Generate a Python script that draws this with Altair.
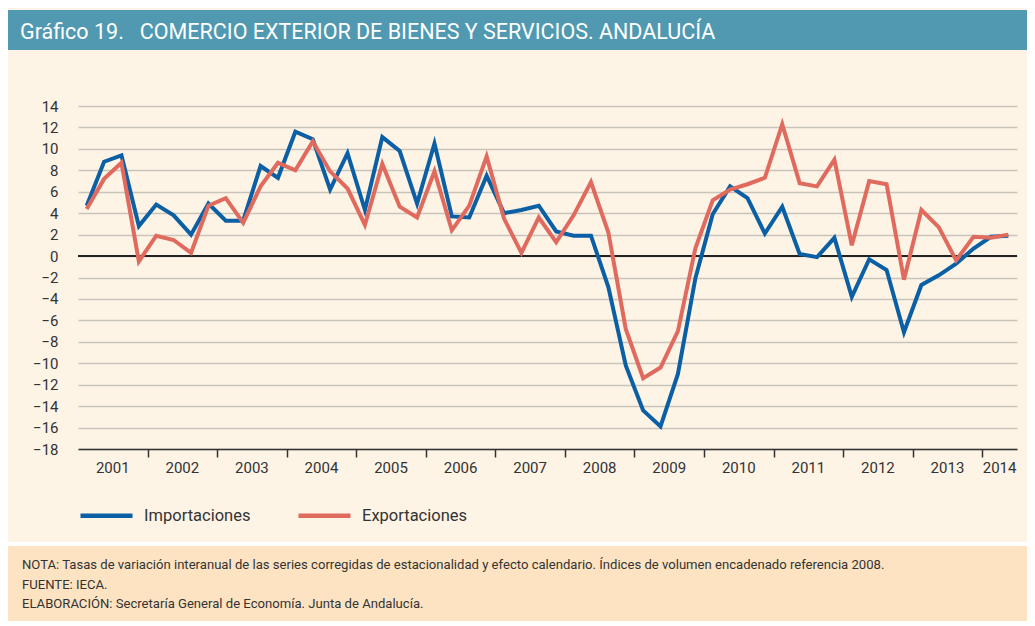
import altair as alt
import pandas as pd

# ---- data (quarterly, 2001Q1 .. 2014Q2) ----
importaciones = [4.7, 8.8, 9.4, 2.8, 4.8, 3.8, 2.0, 4.9, 3.3, 3.3,
                 8.4, 7.3, 11.6, 10.9, 6.2, 9.6, 4.3, 11.1, 9.8, 4.9,
                 10.5, 3.7, 3.6, 7.5, 4.0, 4.3, 4.7, 2.3, 1.9, 1.9,
                 -2.9, -10.2, -14.4, -15.9, -11.0, -2.1, 3.9, 6.5, 5.4, 2.1,
                 4.6, 0.2, -0.1, 1.7, -3.8, -0.3, -1.3, -7.1, -2.7, -1.8,
                 -0.7, 0.7, 1.8, 1.9]
exportaciones = [4.4, 7.2, 8.7, -0.5, 1.9, 1.5, 0.3, 4.7, 5.4, 3.1,
                 6.5, 8.7, 8.0, 10.7, 7.9, 6.3, 2.9, 8.6, 4.6, 3.6,
                 7.9, 2.4, 4.7, 9.3, 3.5, 0.3, 3.6, 1.3, 3.8, 6.9,
                 2.2, -6.8, -11.4, -10.4, -7.0, 0.7, 5.2, 6.2, 6.7, 7.3,
                 12.3, 6.8, 6.5, 9.0, 1.0, 7.0, 6.7, -2.2, 4.3, 2.7,
                 -0.4, 1.8, 1.7, 2.0]
series_names = ["Importaciones", "Exportaciones"]
series_colors = ["#0b5fa5", "#e06a5d"]
years = ["2001", "2002", "2003", "2004", "2005", "2006", "2007",
         "2008", "2009", "2010", "2011", "2012", "2013", "2014"]
y_ticks = list(range(-18, 15, 2))

title_text = "Gráfico 19.\u00a0\u00a0\u00a0COMERCIO EXTERIOR DE BIENES Y SERVICIOS. ANDALUCÍA"
notes = ["NOTA: Tasas de variación interanual de las series corregidas de estacionalidad y efecto calendario. Índices de volumen encadenado referencia 2008.",
         "FUENTE: IECA.",
         "ELABORACIÓN: Secretaría General de Economía. Junta de Andalucía."]

FONT = "Roboto"

n = len(importaciones)
rows = []
for i in range(n):
    rows.append({"t": i + 0.5, "valor": importaciones[i], "serie": series_names[0]})
for i in range(n):
    rows.append({"t": i + 0.5, "valor": exportaciones[i], "serie": series_names[1]})
df = pd.DataFrame(rows)

year_df = pd.DataFrame({
    "year": years,
    "center": [(4 * k + min(4 * k + 4, n)) / 2 for k in range(len(years))],
})
boundaries = [4 * k for k in range(1, len(years))]

W, H = 939, 343
PL, PT, PR, PB = 70, 98, 10, 172
xscale = alt.Scale(domain=[0, n], nice=False, zero=False)
yscale = alt.Scale(domain=[-18, 14], nice=False)

xaxis = alt.Axis(values=boundaries, labels=False, tickSize=8,
                 tickColor="#333333", tickWidth=1.5,
                 domainColor="#333333", domainWidth=1.5,
                 grid=False, title=None)
yaxis = alt.Axis(values=y_ticks, grid=True, gridColor="#c8c4bc",
                 gridWidth=1.5, domain=False, ticks=False,
                 labelPadding=20, labelFontSize=15, labelFont=FONT,
                 labelColor="#333333", labelOverlap=False,
                 labelSeparation=0, title=None)

one = pd.DataFrame({"a": [0]})

title_bar = alt.Chart(one).mark_rect(color="#5099b1").encode(
    x=alt.value(-PL), x2=alt.value(W + PR), y=alt.value(-96), y2=alt.value(-56))
title = alt.Chart(one).mark_text(
    text=title_text, align="left", baseline="middle", font=FONT,
    fontSize=21.5, color="white").encode(x=alt.value(-58), y=alt.value(-73))

gap = alt.Chart(one).mark_rect(color="#ffffff").encode(
    x=alt.value(-PL), x2=alt.value(W + PR), y=alt.value(436), y2=alt.value(440))
footer_bar = alt.Chart(one).mark_rect(color="#fde3c2").encode(
    x=alt.value(-PL), x2=alt.value(W + PR), y=alt.value(440), y2=alt.value(H + PB))
footer_layers = []
for k, line in enumerate(notes):
    footer_layers.append(alt.Chart(one).mark_text(
        text=line, align="left", baseline="middle", font=FONT,
        fontSize=13.1, color="#333333").encode(
        x=alt.value(-56), y=alt.value(459 + 19.5 * k)))

zero = alt.Chart(pd.DataFrame({"y": [0]})).mark_rule(
    color="#222222", strokeWidth=2).encode(
    y=alt.Y("y:Q", scale=yscale, axis=yaxis))

lines = alt.Chart(df).mark_line(strokeWidth=4, strokeJoin="miter").encode(
    x=alt.X("t:Q", scale=xscale, axis=xaxis),
    y=alt.Y("valor:Q", scale=yscale, axis=yaxis),
    color=alt.Color("serie:N",
                    scale=alt.Scale(domain=series_names, range=series_colors),
                    legend=alt.Legend(orient="none", legendX=0, legendY=381,
                                      direction="horizontal", title=None,
                                      symbolType="stroke", symbolSize=2704,
                                      symbolStrokeWidth=4.5, labelFontSize=16.5,
                                      labelFont=FONT, labelColor="#333333",
                                      labelOffset=9, columnPadding=38)),
    order="t:Q",
)

year_labels = alt.Chart(year_df).mark_text(
    font=FONT, fontSize=15, color="#333333", baseline="middle").encode(
    x=alt.X("center:Q", scale=xscale, axis=xaxis),
    y=alt.value(H + 19), text="year:N")

chart = alt.layer(
    title_bar, title, gap, footer_bar, *footer_layers, zero, lines, year_labels
).properties(
    width=W, height=H,
    padding={"left": PL, "top": PT, "right": PR, "bottom": PB},
    autosize=alt.AutoSizeParams(type="none"),
    background="#fdf4e6",
).configure_view(stroke=None).configure_axis(labelFont=FONT)

chart.save("out.html", embed_options={"renderer": "svg", "actions": False})
